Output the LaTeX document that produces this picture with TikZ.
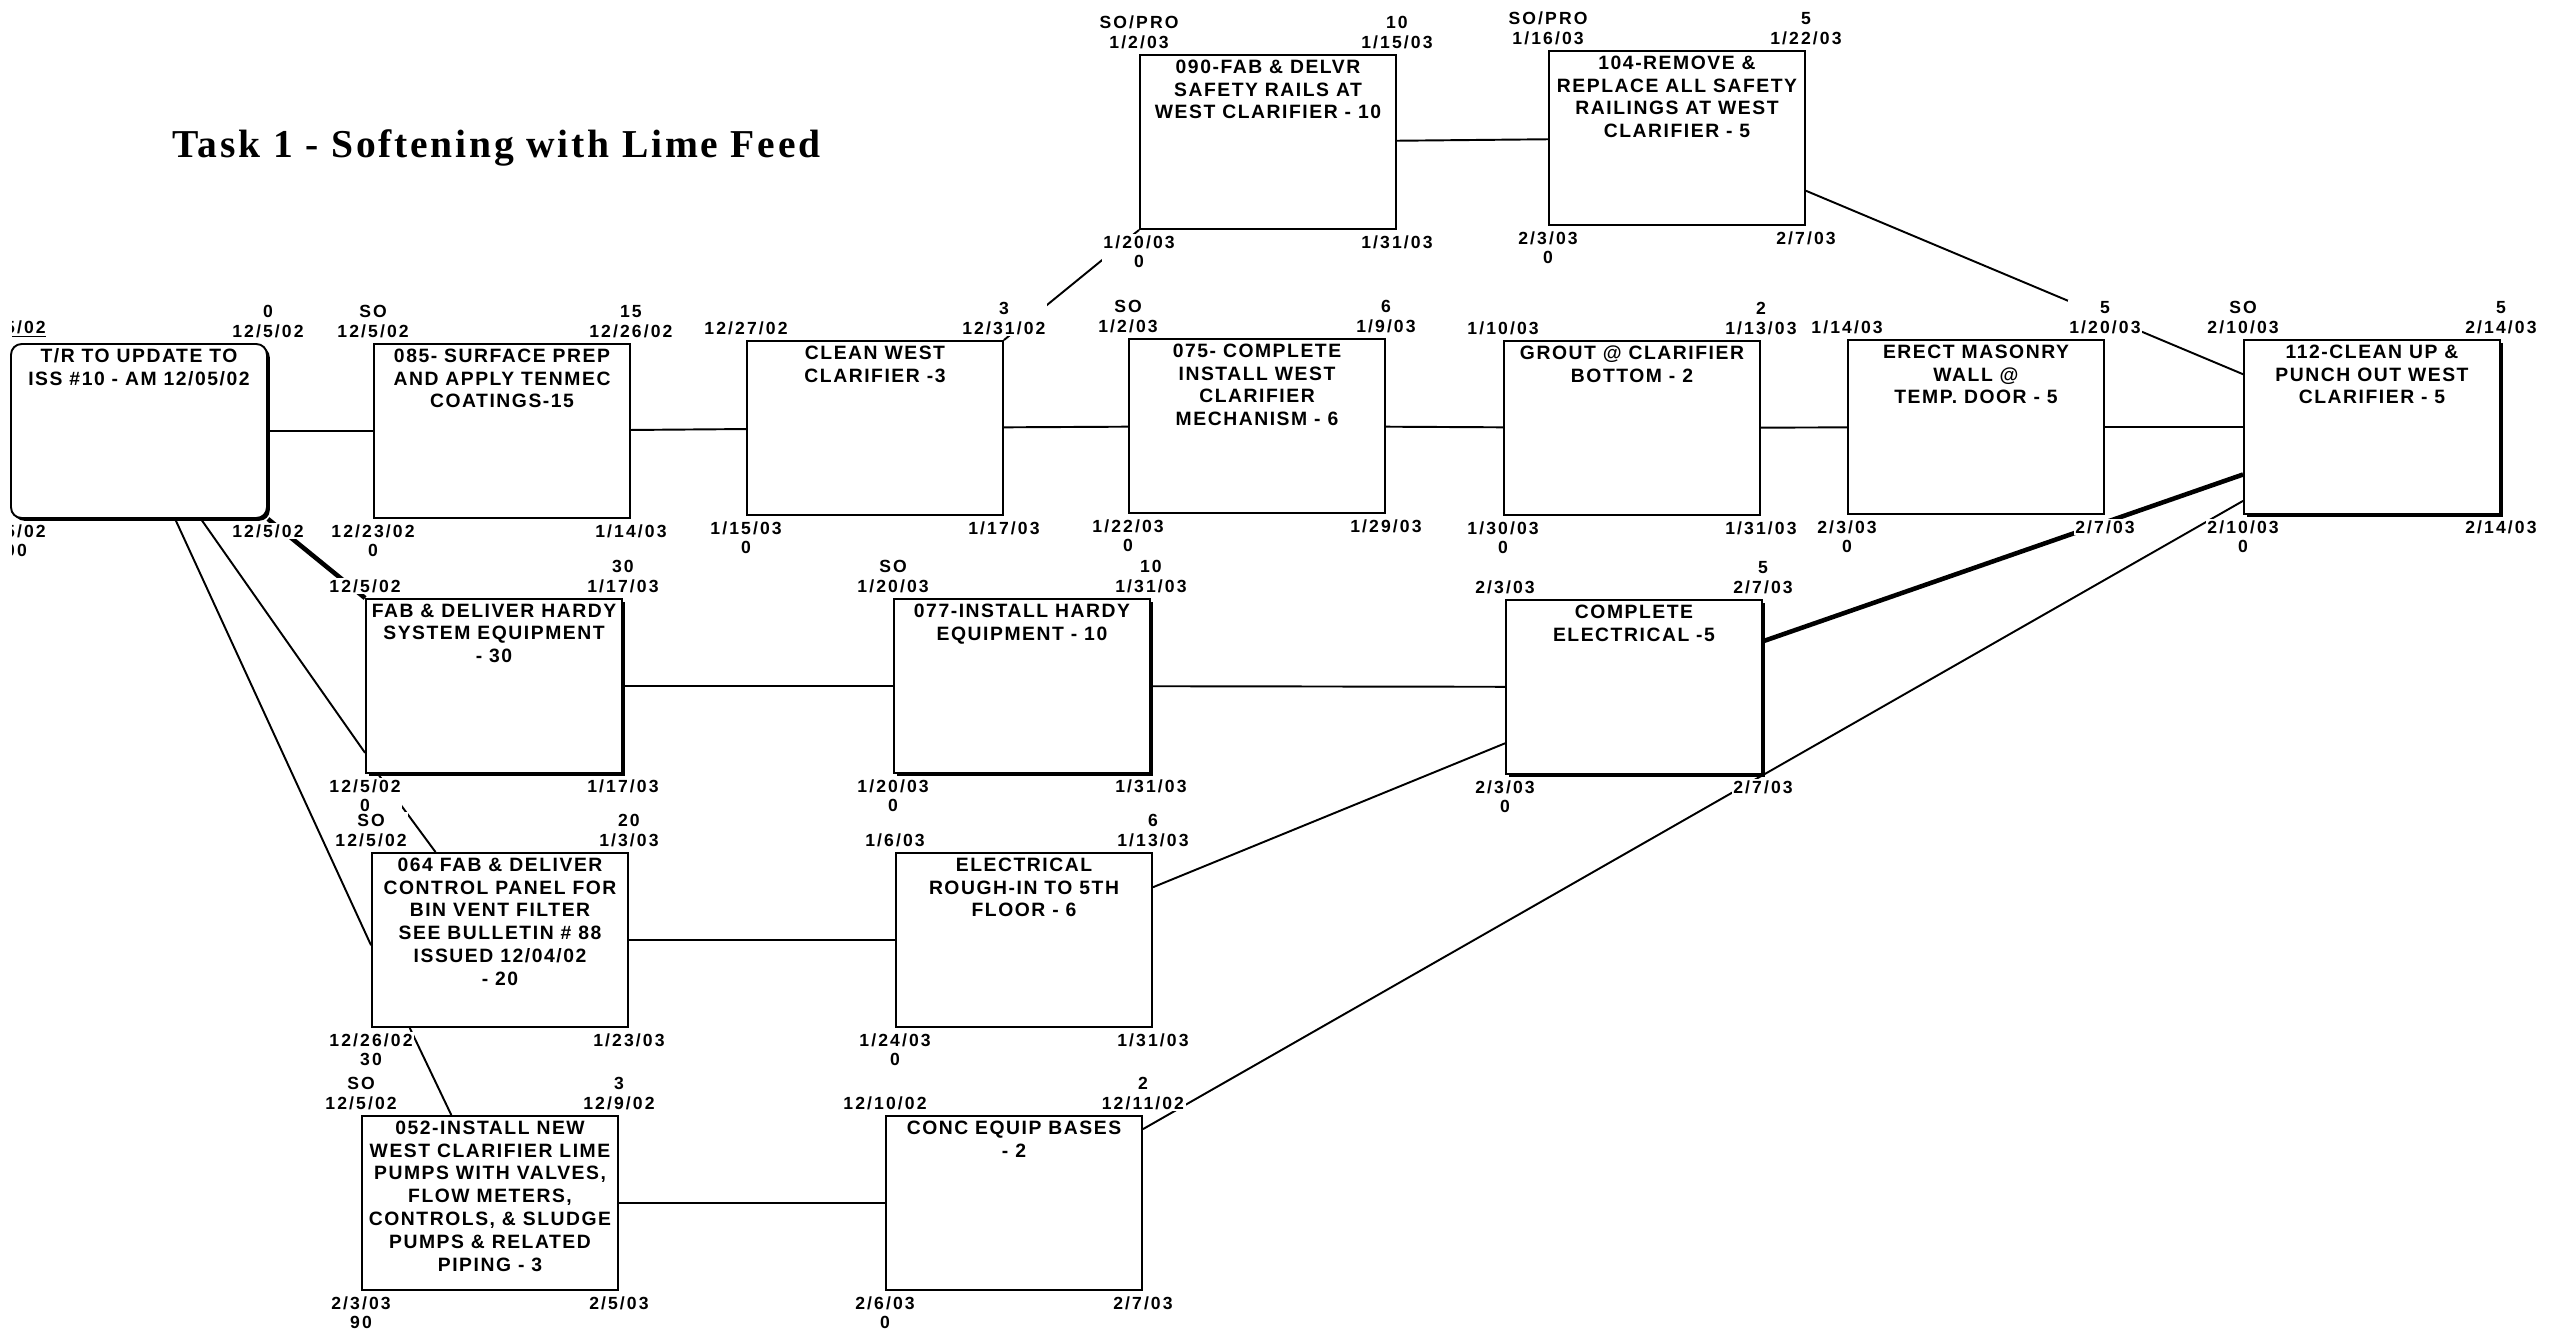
\documentclass[tikz,border=0pt]{standalone}
\usepackage{fontspec}
\setmainfont{Liberation Sans}
\newfontfamily\titlefont[LetterSpace=7]{Liberation Serif}
\newfontfamily\datefont[LetterSpace=12]{Liberation Sans}
\newfontfamily\taskfont[LetterSpace=8]{Liberation Sans}
\usetikzlibrary{positioning, calc, shadows}

% the four dates round a task box: early start, early finish, late start, late finish
\newcommand\dates[5]{%
  \node[lbl, above=2pt of #1.north west] (#1-es) {#2};
  \node[lbl, above=2pt of #1.north east] (#1-ef) {#3};
  \node[lbl, below=2pt of #1.south west] (#1-ls) {#4};
  \node[lbl, below=2pt of #1.south east] (#1-lf) {#5};}

\begin{document}
\begin{tikzpicture}[x=0.02cm, y=-0.02cm,
  task/.style={draw, line width=1.1pt, fill=white, minimum width=5.12cm, minimum height=3.48cm, inner sep=0pt},
  crit/.style={task, drop shadow={shadow xshift=1.6pt, shadow yshift=-1.6pt, fill=black, opacity=1}},
  what/.style={font=\taskfont\bfseries\fontsize{11}{13}\selectfont, align=center, inner sep=2pt},
  lbl/.style={font=\datefont\bfseries\fontsize{10}{11.2}\selectfont, align=center, fill=white, inner sep=1pt},
  link/.style={line width=1.1pt},
  heavy/.style={line width=2.6pt}]
  \useasboundingbox (0,0) rectangle (2567,1336);

  % title
  \node[font=\titlefont\bfseries\fontsize{22.5}{25}\selectfont, anchor=base west, inner sep=0pt] (title) at (172,157) {Task 1 - Softening with Lime Feed};

  % main row
  \node[crit, rounded corners=6pt] (start) at (139,431) {};
  \node[task] (b085) at (502,431) {};
  \node[task] (cw) at (875,428) {};
  \node[task] (b075) at (1257,426) {};
  \node[task] (grout) at (1632,428) {};
  \node[task] (erect) at (1976,427) {};
  \node[crit] (b112) at (2372,427) {};

  % top row
  \node[task] (b090) at (1268,142) {};
  \node[task] (b104) at (1677,138) {};

  % lower rows
  \node[crit] (hardy) at (494,686) {};
  \node[crit] (b077) at (1022,686) {};
  \node[crit] (elec) at (1634,687) {};
  \node[task] (b064) at (500,940) {};
  \node[task] (rough) at (1024,940) {};
  \node[task] (b052) at (490,1203) {};
  \node[task] (conc) at (1014,1203) {};

  % task names
  \node[what, below=1pt of start.north] (start-t) {T/R TO UPDATE TO\\ISS \#10 - AM 12/05/02};
  \node[what, below=1pt of b085.north] (b085-t) {085- SURFACE PREP\\AND APPLY TENMEC\\COATINGS-15};
  \node[what, below=1pt of cw.north] (cw-t) {CLEAN WEST\\CLARIFIER -3};
  \node[what, below=1pt of b075.north] (b075-t) {075- COMPLETE\\INSTALL WEST\\CLARIFIER\\MECHANISM - 6};
  \node[what, below=1pt of grout.north] (grout-t) {GROUT @ CLARIFIER\\BOTTOM - 2};
  \node[what, below=1pt of erect.north] (erect-t) {ERECT MASONRY\\WALL @\\TEMP. DOOR - 5};
  \node[what, below=1pt of b112.north] (b112-t) {112-CLEAN UP \&\\PUNCH OUT WEST\\CLARIFIER - 5};
  \node[what, below=1pt of b090.north] (b090-t) {090-FAB \& DELVR\\SAFETY RAILS AT\\WEST CLARIFIER - 10};
  \node[what, below=1pt of b104.north] (b104-t) {104-REMOVE \&\\REPLACE ALL SAFETY\\RAILINGS AT WEST\\CLARIFIER - 5};
  \node[what, below=1pt of hardy.north] (hardy-t) {FAB \& DELIVER HARDY\\SYSTEM EQUIPMENT\\- 30};
  \node[what, below=1pt of b077.north] (b077-t) {077-INSTALL HARDY\\EQUIPMENT - 10};
  \node[what, below=1pt of elec.north] (elec-t) {COMPLETE\\ELECTRICAL -5};
  \node[what, below=1pt of b064.north] (b064-t) {064 FAB \& DELIVER\\CONTROL PANEL FOR\\BIN VENT FILTER\\SEE BULLETIN \# 88\\ISSUED 12/04/02\\- 20};
  \node[what, below=1pt of rough.north] (rough-t) {ELECTRICAL\\ROUGH-IN TO 5TH\\FLOOR - 6};
  \node[what, below=1pt of b052.north] (b052-t) {052-INSTALL NEW\\WEST CLARIFIER LIME\\PUMPS WITH VALVES,\\FLOW METERS,\\CONTROLS, \& SLUDGE\\PUMPS \& RELATED\\PIPING - 3};
  \node[what, below=1pt of conc.north] (conc-t) {CONC EQUIP BASES\\- 2};

  % straight links
  \draw[link] (start) -- (b085);
  \draw[link] (b085) -- (cw);
  \draw[link] (cw) -- (b075);
  \draw[link] (b075) -- (grout);
  \draw[link] (grout) -- (erect);
  \draw[link] (erect) -- (b112);
  \draw[link] (b090) -- (b104);
  \draw[link] (hardy) -- (b077);
  \draw[link] (b077) -- (elec);
  \draw[link] (b064) -- (rough);
  \draw[link] (b052) -- (conc);

  % slanted links
  \draw[link] (cw.north east) -- (b090.south west);
  \draw[link] ($(b104.north east)!0.8!(b104.south east)$) -- ($(b112.north west)!0.2!(b112.south west)$);
  \draw[heavy] (start.south east) -- (hardy.north west);
  \draw[link] ($(start.south west)!0.74!(start.south east)$) -- ($(hardy.north west)!0.88!(hardy.south west)$);
  \draw[link] ($(start.south west)!0.64!(start.south east)$) -- ($(b064.north west)!0.53!(b064.south west)$);
  \draw[link] ($(hardy.south west)!0.05!(hardy.south east)$) -- ($(b064.north west)!0.25!(b064.north east)$);
  \draw[link] ($(b064.south west)!0.15!(b064.south east)$) -- ($(b052.north west)!0.35!(b052.north east)$);
  \draw[link] ($(rough.north east)!0.2!(rough.south east)$) -- ($(elec.north west)!0.82!(elec.south west)$);
  \draw[heavy] ($(elec.north east)!0.24!(elec.south east)$) -- ($(b112.north west)!0.77!(b112.south west)$);
  \draw[link] ($(conc.north east)!0.08!(conc.south east)$) -- ($(b112.north west)!0.92!(b112.south west)$);

  % dates
  \begin{scope}
    \clip (12,0) rectangle (2567,1336);
    \dates{start}{\underline{12/5/02}}{0\\12/5/02}{12/5/02\\100}{12/5/02}
  \end{scope}
  \dates{b085}{SO\\12/5/02}{15\\12/26/02}{12/23/02\\0}{1/14/03}
  \dates{cw}{12/27/02}{3\\12/31/02}{1/15/03\\0}{1/17/03}
  \dates{b075}{SO\\1/2/03}{6\\1/9/03}{1/22/03\\0}{1/29/03}
  \dates{grout}{1/10/03}{2\\1/13/03}{1/30/03\\0}{1/31/03}
  \dates{erect}{1/14/03}{5\\1/20/03}{2/3/03\\0}{2/7/03}
  \dates{b112}{SO\\2/10/03}{5\\2/14/03}{2/10/03\\0}{2/14/03}
  \dates{b090}{SO/PRO\\1/2/03}{10\\1/15/03}{1/20/03\\0}{1/31/03}
  \dates{b104}{SO/PRO\\1/16/03}{5\\1/22/03}{2/3/03\\0}{2/7/03}
  \dates{hardy}{12/5/02}{30\\1/17/03}{12/5/02\\0}{1/17/03}
  \dates{b077}{SO\\1/20/03}{10\\1/31/03}{1/20/03\\0}{1/31/03}
  \dates{elec}{2/3/03}{5\\2/7/03}{2/3/03\\0}{2/7/03}
  \dates{b064}{SO\\12/5/02}{20\\1/3/03}{12/26/02\\30}{1/23/03}
  \dates{rough}{1/6/03}{6\\1/13/03}{1/24/03\\0}{1/31/03}
  \dates{b052}{SO\\12/5/02}{3\\12/9/02}{2/3/03\\90}{2/5/03}
  \dates{conc}{12/10/02}{2\\12/11/02}{2/6/03\\0}{2/7/03}
\end{tikzpicture}
\end{document}
